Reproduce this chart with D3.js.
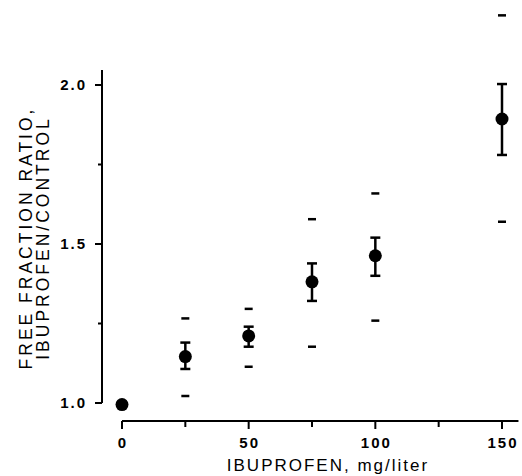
<!DOCTYPE html>
<html>
<head>
<meta charset="utf-8">
<script src="https://cdn.jsdelivr.net/npm/d3@7"></script>
<style>
  body { margin: 0; background: #fff; }
  svg { display: block; font-family: "Liberation Sans", Arial, sans-serif; }
</style>
</head>
<body>
<script>
// ibuprofen dose, mg/liter
const doses = [0, 25, 50, 75, 100, 150];
// mean free fraction ratio
const means = [0.995, 1.146, 1.211, 1.381, 1.463, 1.893];
// error bars (mean +/- SE)
const errLow = [null, 1.107, 1.177, 1.321, 1.400, 1.780];
const errHigh = [null, 1.190, 1.240, 1.439, 1.520, 2.003];
// range of individual values (dashes)
const rangeLow = [null, 1.022, 1.114, 1.177, 1.259, 1.570];
const rangeHigh = [null, 1.266, 1.296, 1.578, 1.659, 2.219];

const xTicks = [0, 25, 50, 75, 100, 125, 150];
const xLabels = [0, 50, 100, 150];
const yTicks = [1.0, 1.25, 1.5, 1.75, 2.0];
const yLabels = [1.0, 1.5, 2.0];

const W = 522, H = 476;
const svg = d3.select('body').append('svg').attr('width', W).attr('height', H);

const x = d3.scaleLinear().domain([0, 150]).range([122, 502]);
const y = d3.scaleLinear().domain([1, 2]).range([403, 85]);

const data = doses.map((d, i) => ({
  dose: d, mean: means[i],
  lo: errLow[i], hi: errHigh[i],
  rlo: rangeLow[i], rhi: rangeHigh[i]
}));

// x axis
const xAxis = svg.append('g').attr('transform', 'translate(0,421)');
xAxis.append('line')
  .attr('x1', x(0)).attr('x2', x(156.5))
  .attr('stroke', '#000').attr('stroke-width', 2);
xAxis.selectAll('.xt').data(xTicks).join('line')
  .attr('x1', d => x(d)).attr('x2', d => x(d))
  .attr('y1', 0).attr('y2', d => xLabels.includes(d) ? 8 : 6)
  .attr('stroke', '#000').attr('stroke-width', 2);
// letter-spacing adds a trailing gap, so shift by half of it
xAxis.selectAll('.xl').data(xLabels).join('text')
  .attr('x', d => x(d) + 1).attr('y', 27)
  .attr('text-anchor', 'middle')
  .attr('font-size', 15).attr('font-weight', 'bold').attr('letter-spacing', 2)
  .text(d => d);

svg.append('text')
  .attr('x', 328).attr('y', 471)
  .attr('text-anchor', 'middle')
  .attr('font-size', 17).attr('letter-spacing', 2)
  .text('IBUPROFEN, mg/liter');

// y axis
const yAxis = svg.append('g').attr('transform', 'translate(102,0)');
yAxis.append('line')
  .attr('y1', y(1)).attr('y2', y(2.047))
  .attr('stroke', '#000').attr('stroke-width', 2);
yAxis.selectAll('.yt').data(yTicks).join('line')
  .attr('y1', d => y(d)).attr('y2', d => y(d))
  .attr('x1', d => yLabels.includes(d) ? -7 : -4).attr('x2', 0)
  .attr('stroke', '#000').attr('stroke-width', 2);
yAxis.selectAll('.yl').data(yLabels).join('text')
  .attr('x', -15).attr('y', d => y(d)).attr('dy', '0.36em')
  .attr('text-anchor', 'end')
  .attr('font-size', 15).attr('font-weight', 'bold').attr('letter-spacing', 2)
  .text(d => d.toFixed(1));

const yTitle = svg.append('text')
  .attr('transform', 'translate(0,238) rotate(-90)')
  .attr('text-anchor', 'middle')
  .attr('font-size', 17.5).attr('letter-spacing', 3);
yTitle.append('tspan').attr('x', 0).attr('y', 32).text('FREE FRACTION RATIO,');
yTitle.append('tspan').attr('x', 0).attr('y', 49).text('IBUPROFEN/CONTROL');

// marks
const g = svg.append('g');
const withBars = data.filter(d => d.lo != null);

g.selectAll('.err').data(withBars).join('line')
  .attr('x1', d => x(d.dose)).attr('x2', d => x(d.dose))
  .attr('y1', d => y(d.lo)).attr('y2', d => y(d.hi))
  .attr('stroke', '#000').attr('stroke-width', 2.5);

['lo', 'hi'].forEach(k => {
  g.selectAll('.cap-' + k).data(withBars).join('line')
    .attr('x1', d => x(d.dose) - 5).attr('x2', d => x(d.dose) + 5)
    .attr('y1', d => y(d[k])).attr('y2', d => y(d[k]))
    .attr('stroke', '#000').attr('stroke-width', 2.5);
});

['rlo', 'rhi'].forEach(k => {
  g.selectAll('.rng-' + k).data(withBars).join('line')
    .attr('x1', d => x(d.dose) - 4).attr('x2', d => x(d.dose) + 4)
    .attr('y1', d => y(d[k])).attr('y2', d => y(d[k]))
    .attr('stroke', '#000').attr('stroke-width', 2.5);
});

g.selectAll('circle').data(data).join('circle')
  .attr('cx', d => x(d.dose)).attr('cy', d => y(d.mean))
  .attr('r', 6.5).attr('fill', '#000');
</script>
</body>
</html>
